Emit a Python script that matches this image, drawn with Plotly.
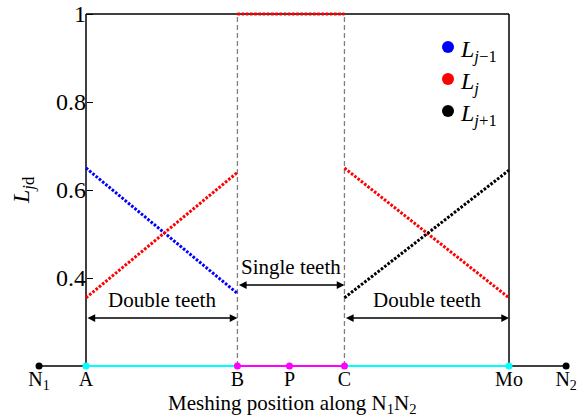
import plotly.graph_objects as go

# Meshing positions along the line of action N1N2 (A = start, Mo = end of contact)
point_names = ["N1", "A", "B", "P", "C", "Mo", "N2"]
point_pos = [-0.111, 0.0, 0.358, 0.481, 0.611, 1.0, 1.135]
point_labels = ["N<sub>1</sub>", "A", "B", "P", "C", "Mo", "N<sub>2</sub>"]
pos = dict(zip(point_names, point_pos))

# Load sharing ratios at the segment ends
prev_x = ["A", "B"]
prev_y = [0.65, 0.365]          # L_{j-1}
curr_x1 = ["A", "B"]
curr_y1 = [0.355, 0.64]         # L_j, double-tooth zone (approach)
curr_x2 = ["B", "C"]
curr_y2 = [1.0, 1.0]            # L_j, single-tooth zone
curr_x3 = ["C", "Mo"]
curr_y3 = [0.65, 0.355]         # L_j, double-tooth zone (recess)
next_x = ["C", "Mo"]
next_y = [0.355, 0.645]         # L_{j+1}

y_ticks = [0.4, 0.6, 0.8, 1.0]
y_ticktext = ["0.4", "0.6", "0.8", "1"]

series_names = ["<i>L</i><sub><i>j</i>−1</sub>", "<i>L</i><sub><i>j</i></sub>",
                "<i>L</i><sub><i>j</i>+1</sub>"]
series_colors = ["#0000ff", "#ff0000", "#000000"]

FONT = "Liberation Serif"
W, H = 583, 418
ML, MR, MT, MB = 32, 9, 10, 48
X_A_PX, X_MO_PX = 86, 509
Y_TOP_PX, Y_BOT_PX = 14, 366
x_per_px = (pos["Mo"] - pos["A"]) / (X_MO_PX - X_A_PX)
y_per_px = (1.0 - 0.2) / (Y_BOT_PX - Y_TOP_PX)
x_range = [pos["A"] - (X_A_PX - ML) * x_per_px, pos["A"] + (W - MR - X_A_PX) * x_per_px]
y_range = [0.2 - (H - MB - Y_BOT_PX) * y_per_px, 1.0 + (Y_TOP_PX - MT) * y_per_px]


def paper_x(px):
    return (px - ML) / (W - ML - MR)


def paper_y(py):
    return (H - MB - py) / (H - MT - MB)


fig = go.Figure()

DOT = dict(width=3, dash="2.6px,1.6px")


def dotted(xkeys, yvals, color):
    fig.add_trace(go.Scatter(
        x=[pos[k] for k in xkeys], y=yvals, mode="lines",
        line=dict(color=color, **DOT), showlegend=False, hoverinfo="skip"))


dotted(prev_x, prev_y, series_colors[0])
dotted(curr_x1, curr_y1, series_colors[1])
dotted(curr_x2, curr_y2, series_colors[1])
dotted(curr_x3, curr_y3, series_colors[1])
dotted(next_x, next_y, series_colors[2])

# Line of action with colour-coded contact zones
segments = [("N1", "A", "#000000", 1.5), ("A", "B", "#00ffff", 2),
            ("B", "C", "#ff00ff", 2), ("C", "Mo", "#00ffff", 2),
            ("Mo", "N2", "#000000", 1.5)]
for a, b, c, w in segments:
    fig.add_trace(go.Scatter(x=[pos[a], pos[b]], y=[0.2, 0.2], mode="lines",
                             line=dict(color=c, width=w), showlegend=False,
                             hoverinfo="skip"))
pt_colors = {"N1": "#000000", "A": "#00ffff", "B": "#ff00ff", "P": "#ff00ff",
             "C": "#ff00ff", "Mo": "#00ffff", "N2": "#000000"}
fig.add_trace(go.Scatter(x=point_pos, y=[0.2] * len(point_pos), mode="markers",
                         marker=dict(size=7, color=[pt_colors[n] for n in point_names]),
                         cliponaxis=False, showlegend=False, hoverinfo="skip"))

shapes = []
# Frame: left, right and top
for x0, y0, x1, y1 in [(pos["A"], 0.2, pos["A"], 1.0), (pos["Mo"], 0.2, pos["Mo"], 1.0),
                       (pos["A"], 1.0, pos["Mo"], 1.0)]:
    shapes.append(dict(type="line", xref="x", yref="y", x0=x0, y0=y0, x1=x1, y1=y1,
                       line=dict(color="#000000", width=1.5), layer="below"))
for k in ["B", "C"]:
    shapes.append(dict(type="line", xref="x", yref="y", x0=pos[k], x1=pos[k], y0=0.2, y1=1.0,
                       line=dict(color="#808080", width=1.3, dash="5px,3px"), layer="below"))

annotations = []

# Legend: coloured dots with labels
LEG_X, LEG_Y0, LEG_DY = 448, 47, 32
for i, (name, color) in enumerate(zip(series_names, series_colors)):
    cy = LEG_Y0 + i * LEG_DY
    shapes.append(dict(type="circle", xref="paper", yref="paper",
                       xsizemode="pixel", ysizemode="pixel",
                       xanchor=paper_x(LEG_X), yanchor=paper_y(cy),
                       x0=-6, x1=6, y0=-6, y1=6,
                       fillcolor=color, line=dict(width=0)))
    annotations.append(dict(x=paper_x(LEG_X + 10), y=paper_y(cy + 4), xref="paper", yref="paper",
                            xanchor="left", yanchor="middle", text=name, showarrow=False,
                            font=dict(family=FONT, size=24, color="#000000")))


def double_arrow(a, b, y):
    annotations.append(dict(x=pos[b], y=y, ax=pos[a], ay=y, xref="x", yref="y",
                            axref="x", ayref="y", text="", showarrow=True,
                            arrowhead=2, arrowsize=1.1, arrowwidth=1.4,
                            arrowside="end+start", arrowcolor="#000000",
                            standoff=0, startstandoff=0))


double_arrow("A", "B", 0.309)
double_arrow("B", "C", 0.384)
double_arrow("C", "Mo", 0.309)

for text, xc, yv in [("Double teeth", (pos["A"] + pos["B"]) / 2, 0.35),
                     ("Single teeth", (pos["B"] + pos["C"]) / 2, 0.425),
                     ("Double teeth", (pos["C"] + pos["Mo"]) / 2, 0.35)]:
    annotations.append(dict(x=xc, y=yv, xref="x", yref="y", text=text, showarrow=False,
                            font=dict(family=FONT, size=21, color="#000000")))

annotations.append(dict(x=paper_x(23), y=paper_y(190), xref="paper", yref="paper",
                        xanchor="center", yanchor="middle",
                        text="<i>L</i><sub><i>j</i>d</sub>", textangle=-90, showarrow=False,
                        font=dict(family=FONT, size=24, color="#000000")))
annotations.append(dict(x=paper_x(292), y=paper_y(404), xref="paper", yref="paper",
                        xanchor="center", yanchor="middle",
                        text="Meshing position along N<sub>1</sub>N<sub>2</sub>", showarrow=False,
                        font=dict(family=FONT, size=21, color="#000000")))

fig.update_layout(
    width=W, height=H, margin=dict(l=ML, r=MR, t=MT, b=MB, pad=0, autoexpand=False),
    paper_bgcolor="#ffffff", plot_bgcolor="#ffffff",
    font=dict(family=FONT, size=20, color="#000000"),
    shapes=shapes, annotations=annotations,
    showlegend=False,
    xaxis=dict(range=x_range, showgrid=False, zeroline=False, showline=False,
               automargin=False,
               tickmode="array", tickvals=point_pos, ticktext=point_labels,
               ticks="", ticklabelstandoff=-5, tickfont=dict(family=FONT, size=20)),
    yaxis=dict(range=y_range, showgrid=False, zeroline=False, showline=False,
               automargin=False,
               anchor="free", position=paper_x(X_A_PX), side="left",
               tickmode="array", tickvals=y_ticks, ticktext=y_ticktext,
               ticks="inside", ticklen=6, tickwidth=1.3, tickcolor="#000000",
               tickfont=dict(family=FONT, size=24)),
)

fig.write_html("out.html")
